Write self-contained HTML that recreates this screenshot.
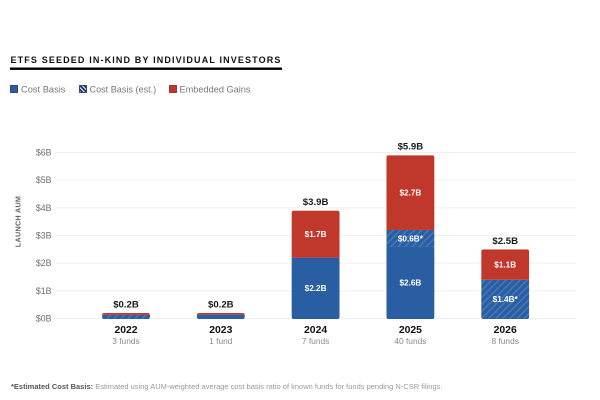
<!DOCTYPE html>
<html>
<head>
<meta charset="utf-8">
<style>
html,body{margin:0;padding:0;background:#fff;}
body{width:600px;height:400px;overflow:hidden;position:relative;font-family:"Liberation Sans",sans-serif;}
svg{position:absolute;left:0;top:0;}
</style>
</head>
<body>
<svg id="chart" width="600" height="400" viewBox="0 0 600 400" xmlns="http://www.w3.org/2000/svg" font-family="'Liberation Sans',sans-serif">
<defs>
<pattern id="hatch" patternUnits="userSpaceOnUse" width="5" height="5" patternTransform="rotate(45)">
<rect width="5" height="5" fill="#2a5ea3"/>
<rect width="1.6" height="5" fill="#4677b5"/>
</pattern>
<pattern id="legend-hatch" patternUnits="userSpaceOnUse" width="3" height="3" patternTransform="rotate(-45)">
<rect width="3" height="3" fill="#16305f"/>
<rect width="1.2" height="3" fill="#dfe6f0"/>
</pattern>
</defs>
<text x="10.5" y="63" font-size="9" font-weight="700" letter-spacing="1.14" fill="#111">ETFS SEEDED IN-KIND BY INDIVIDUAL INVESTORS</text>
<rect x="10" y="67.5" width="272" height="2.4" fill="#000"/>
<g>
<rect x="10.5" y="85.5" width="7" height="7" fill="#2a5ea3" stroke="#16305f" stroke-width="0.8"/>
<text x="21" y="92.6" font-size="9.3" fill="#77777b">Cost Basis</text>
<rect x="79.5" y="85.5" width="7" height="7" fill="url(#legend-hatch)" stroke="#16305f" stroke-width="0.8"/>
<text x="89.5" y="92.6" font-size="9.1" fill="#77777b">Cost Basis (est.)</text>
<rect x="169.5" y="85.5" width="7" height="7" fill="#c0372b" stroke="#7d231c" stroke-width="0.8"/>
<text x="179.5" y="92.6" font-size="9.2" fill="#77777b">Embedded Gains</text>
</g>
<text transform="translate(20.3,221.5) rotate(-90)" text-anchor="middle" font-size="7.2" font-weight="700" letter-spacing="0.3" fill="#666">LAUNCH AUM</text>
<g id="grid"></g>
<g id="bars"></g>
<text x="11" y="389" font-size="7.5" fill="#999"><tspan font-weight="700" fill="#555">*Estimated Cost Basis:</tspan> Estimated using AUM-weighted average cost basis ratio of known funds for funds pending N-CSR filings.</text>
</svg>
<script>
const years = ['2022','2023','2024','2025','2026'];
const fundCounts = ['3 funds','1 fund','7 funds','40 funds','8 funds'];
const costBasis = [0, 0.14, 2.2, 2.6, 0];
const costBasisEst = [0.13, 0, 0, 0.6, 1.4];
const embeddedGains = [0.07, 0.06, 1.7, 2.7, 1.1];
const totalLabels = ['$0.2B','$0.2B','$3.9B','$5.9B','$2.5B'];
const costLabels = ['', '', '$2.2B', '$2.6B', ''];
const estLabels = ['', '', '', '$0.6B*', '$1.4B*'];
const gainLabels = ['', '', '$1.7B', '$2.7B', '$1.1B'];
const yTicks = [0,1,2,3,4,5,6];

const NS = 'http://www.w3.org/2000/svg';
const yScale = v => 318.5 - v * 27.67;
const xScale = i => 126 + i * 94.8;
const barWidth = 48;

function make(tag, attrs, parent, txt) {
  const el = document.createElementNS(NS, tag);
  for (const k in attrs) el.setAttribute(k, attrs[k]);
  if (txt !== undefined) el.textContent = txt;
  parent.appendChild(el);
  return el;
}

const grid = document.getElementById('grid');
yTicks.forEach(t => {
  const line = make('line', {x1: 56, x2: 576, y1: yScale(t), y2: yScale(t), stroke: '#efeff1', 'stroke-width': 1}, grid);
  
  
  const label = make('text', {x: 51.5, y: yScale(t) + 3, 'text-anchor': 'end', 'font-size': 8.8, fill: '#6e6e72'}, grid, '$' + t + 'B');
  
  
});

const bars = document.getElementById('bars');
years.forEach((year, i) => {
  const x = xScale(i) - barWidth / 2;
  const cx = xScale(i);
  const c = costBasis[i], e = costBasisEst[i], g = embeddedGains[i];
  const total = c + e + g;
  const clipId = 'bar-clip-' + i;
  const cp = make('clipPath', {id: clipId}, bars);
  make('rect', {x: x, y: yScale(total), width: barWidth, height: yScale(0) - yScale(total) + 0.6, rx: 2.2, ry: 2.2}, cp);
  const group = make('g', {'clip-path': 'url(#' + clipId + ')'}, bars);
  
  

  const costRect = make('rect', {x: x, y: yScale(c), width: barWidth, height: yScale(0) - yScale(c) + 0.6, fill: '#2a5ea3'}, group);
  
  
  const estRect = make('rect', {x: x, y: yScale(c + e), width: barWidth, height: yScale(c) - yScale(c + e), fill: 'url(#hatch)'}, group);
  
  
  const gainRect = make('rect', {x: x, y: yScale(total), width: barWidth, height: yScale(c + e) - yScale(total), fill: '#c0372b'}, group);
  
  

  const segLabel = (txt, mid, name) => {
    if (!txt) return;
    const t = make('text', {x: cx, y: yScale(mid) + 3, 'text-anchor': 'middle', 'font-size': 8.2, 'font-weight': 700, fill: '#fff'}, bars, txt);
    
    
  };
  segLabel(costLabels[i], c / 2, 'label-cost-basis');
  segLabel(estLabels[i], c + e / 2, 'label-cost-basis-est');
  segLabel(gainLabels[i], c + e + g / 2, 'label-embedded-gains');

  const totalText = make('text', {x: cx, y: yScale(total) - 5.5, 'text-anchor': 'middle', 'font-size': 9.6, 'font-weight': 700, fill: '#1a1a1a'}, bars, totalLabels[i]);
  
  
  const yearText = make('text', {x: cx, y: 333, 'text-anchor': 'middle', 'font-size': 10.4, 'font-weight': 700, fill: '#111'}, bars, year);
  
  
  const fundText = make('text', {x: cx, y: 344, 'text-anchor': 'middle', 'font-size': 8.4, fill: '#8a8a8e'}, bars, fundCounts[i]);
  
  
});
</script>
</body>
</html>
